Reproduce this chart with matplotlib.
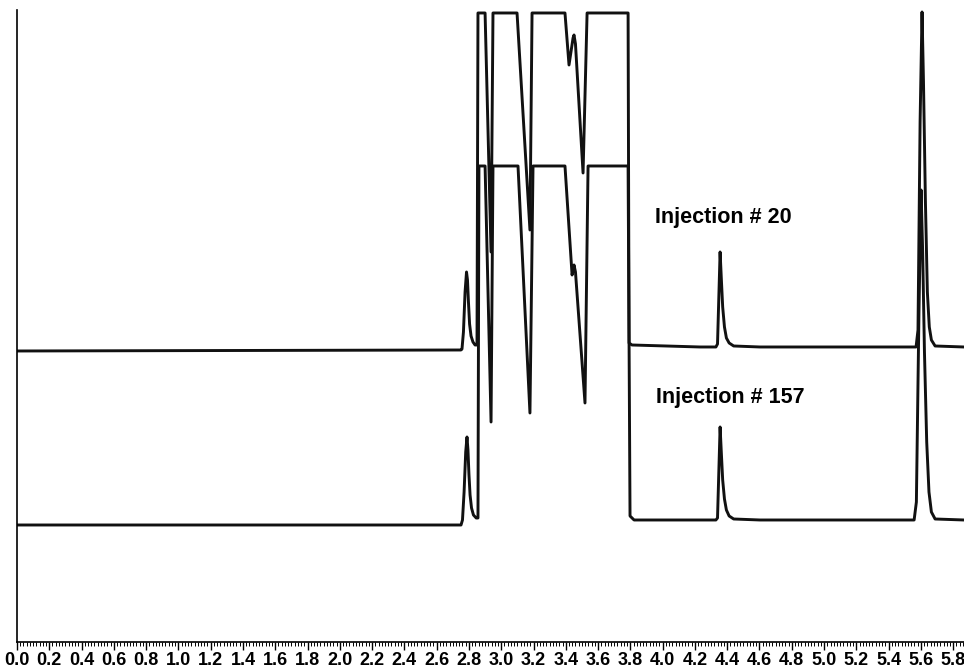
import matplotlib
matplotlib.use("Agg")
import matplotlib.pyplot as plt
from matplotlib.ticker import MultipleLocator

# retention time (min) and detector response (arbitrary units)
# Injection # 20 (upper trace)
time_20 = [0.000, 2.751, 2.757, 2.766, 2.776, 2.785, 2.791, 2.797, 2.804,
           2.813, 2.825, 2.838, 2.850, 2.856, 2.900, 2.937, 2.949, 3.098,
           3.178, 3.191, 3.395, 3.420, 3.445, 3.451, 3.460, 3.507, 3.532,
           3.786, 3.792, 3.810, 4.232, 4.330, 4.340, 4.356, 4.364, 4.372,
           4.383, 4.395, 4.412, 4.440, 4.603, 5.570, 5.582, 5.595, 5.607,
           5.616, 5.628, 5.640, 5.652, 5.665, 5.688, 5.867]
resp_20 = [291, 292, 293, 310, 350, 370, 362, 340, 318,
           306, 300, 297, 297, 629, 629, 390, 629, 629,
           412, 629, 629, 577, 604, 607, 598, 469, 629,
           629, 299, 297, 295, 295, 298, 390, 362, 335,
           315, 304, 299, 296, 295, 295, 312, 520, 630,
           560, 440, 350, 315, 302, 296, 295]

# Injection # 157 (lower trace)
time_157 = [0.000, 2.751, 2.760, 2.770, 2.780, 2.788, 2.794, 2.800, 2.807,
            2.816, 2.828, 2.845, 2.856, 2.862, 2.900, 2.937, 2.949, 3.104,
            3.178, 3.197, 3.395, 3.439, 3.451, 3.460, 3.519, 3.538, 3.786,
            3.798, 3.823, 4.330, 4.340, 4.356, 4.364, 4.372, 4.383, 4.395,
            4.412, 4.440, 4.603, 5.558, 5.572, 5.588, 5.601, 5.611, 5.622,
            5.636, 5.650, 5.665, 5.688, 5.867]
resp_157 = [117, 117, 122, 150, 190, 205, 192, 168, 147,
            134, 127, 124, 124, 476, 476, 220, 476, 476,
            229, 476, 476, 367, 377, 370, 239, 476, 476,
            126, 122, 122, 124, 215, 188, 162, 143, 132,
            126, 123, 122, 122, 140, 330, 452, 390, 290,
            200, 150, 130, 123, 122]

labels = ["Injection # 20", "Injection # 157"]
label_pos = [(3.95, 424), (3.96, 244)]


def chromatogram(t1, y1, t2, y2):
    fig = plt.figure(figsize=(9.64, 6.70), dpi=100)
    ax = fig.add_axes([0.0176, 0.0418, 0.9824, 0.9433])

    ax.plot(t1, y1, color="#111111", linewidth=2.1, solid_joinstyle="round")
    ax.plot(t2, y2, color="#111111", linewidth=2.1, solid_joinstyle="round")

    for text, (x, y) in zip(labels, label_pos):
        ax.text(x, y, text, fontsize=15.5, fontweight="bold",
                family="Liberation Sans", va="center", ha="left")

    ax.set_xlim(0, 5.867)
    ax.set_ylim(0, 632)

    ax.spines["top"].set_visible(False)
    ax.spines["right"].set_visible(False)
    ax.spines["left"].set_linewidth(1.2)
    ax.spines["bottom"].set_linewidth(1.2)

    ax.xaxis.set_major_locator(MultipleLocator(0.2))
    ax.xaxis.set_minor_locator(MultipleLocator(0.02))
    ax.xaxis.set_major_formatter(lambda v, pos: f"{v:.1f}")
    ax.tick_params(axis="x", which="major", direction="out", length=6,
                   width=1.0, pad=1.5, labelsize=13)
    ax.tick_params(axis="x", which="minor", direction="out", length=3,
                   width=0.7)
    ax.set_yticks([])
    for lab in ax.get_xticklabels():
        lab.set_fontweight("bold")
        lab.set_family("Liberation Sans")

    fig.savefig("out.png", dpi=100)


chromatogram(time_20, resp_20, time_157, resp_157)
